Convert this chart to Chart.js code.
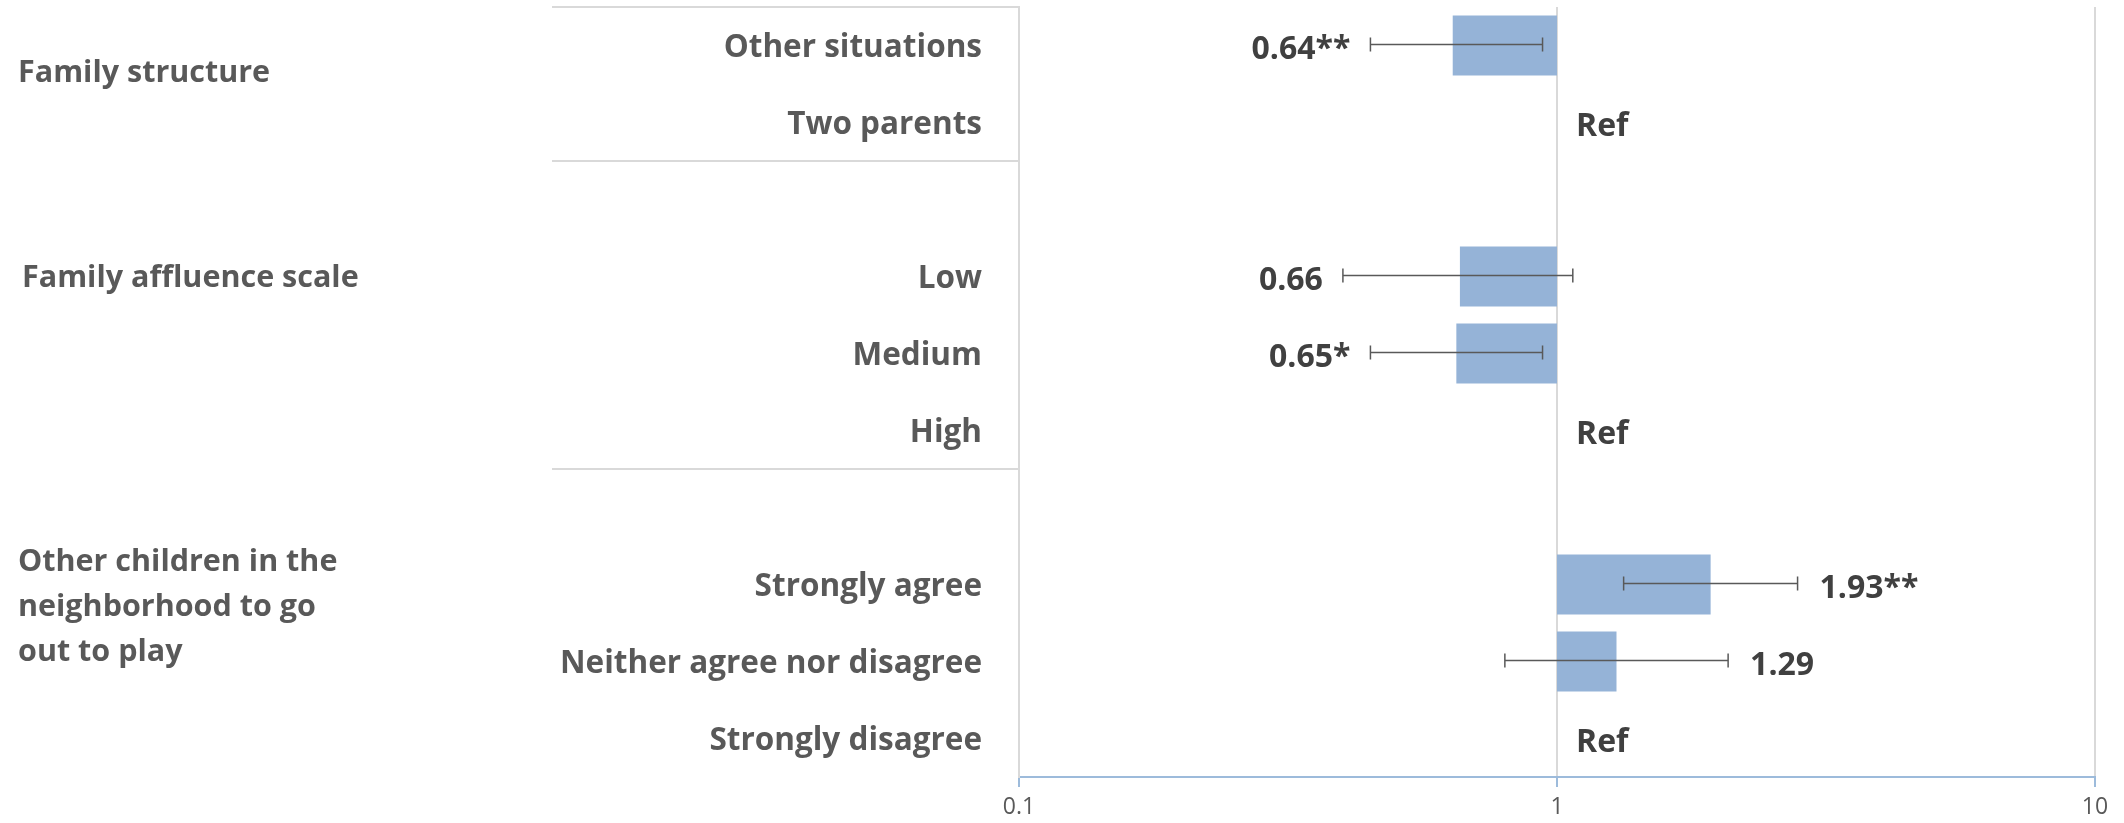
<!DOCTYPE html>
<html>
<head>
<meta charset="utf-8">
<script src="https://cdn.jsdelivr.net/npm/chart.js@4.4.0/dist/chart.umd.min.js"></script>
<style>
  body { margin: 0; background: #fff; }
  .wrap { width: 2124px; height: 823px; position: relative; }
</style>
</head>
<body>
<div class="wrap"><canvas id="or-chart"></canvas></div>
<script>
var categories = ['Other situations', 'Two parents', '', 'Low', 'Medium', 'High', '', 'Strongly agree', 'Neither agree nor disagree', 'Strongly disagree'];
var oddsRatio = [0.64, null, null, 0.66, 0.65, null, null, 1.93, 1.29, null];
var ciLower = [0.45, null, null, 0.40, 0.45, null, null, 1.33, 0.80, null];
var ciUpper = [0.94, null, null, 1.07, 0.94, null, null, 2.80, 2.08, null];
var stars = ['**', '', '', '', '*', '', '', '**', '', ''];
var xTicks = [0.1, 1, 10];
var groups = ['Family structure', 'Family affluence scale', 'Other children in the\nneighborhood to go\nout to play'];

Chart.defaults.font.family = "'Open Sans', sans-serif";

// bars start at OR = 1 and run to the estimate
var bars = oddsRatio.map(function(v) { return v == null ? null : [1, v]; });

// group dividers sit before every blank row, plus top and bottom edge
var dividers = [0, categories.length];
categories.forEach(function(c, i) { if (c === '') dividers.push(i); });

var errorBars = {
	id: 'errorBars',
	afterDatasetsDraw: function(chart) {
		var ctx = chart.ctx, xs = chart.scales.x, ys = chart.scales.y;
		var one = xs.getPixelForValue(1);
		ctx.save();
		ctx.strokeStyle = '#595959';
		ctx.lineWidth = 1.5;
		for (var i = 0; i < categories.length; i++) {
			if (oddsRatio[i] == null) continue;
			var yc = ys.getPixelForValue(i) - 1;
			var x1 = xs.getPixelForValue(ciLower[i]);
			var x2 = xs.getPixelForValue(ciUpper[i]);
			ctx.beginPath();
			ctx.moveTo(x1, yc); ctx.lineTo(x2, yc);
			ctx.moveTo(x1, yc - 7); ctx.lineTo(x1, yc + 7);
			ctx.moveTo(x2, yc - 7); ctx.lineTo(x2, yc + 7);
			ctx.stroke();
		}

		ctx.font = 'bold 32px "Open Sans"';
		ctx.fillStyle = '#404040';
		ctx.textBaseline = 'middle';
		for (var j = 0; j < categories.length; j++) {
			if (categories[j] === '') continue;
			var y = ys.getPixelForValue(j) + 4;
			if (oddsRatio[j] == null) {
				ctx.textAlign = 'left';
				ctx.fillText('Ref', one + 19, y);
			} else if (oddsRatio[j] < 1) {
				ctx.textAlign = 'right';
				ctx.fillText(oddsRatio[j].toFixed(2) + stars[j], xs.getPixelForValue(ciLower[j]) - 20, y);
			} else {
				ctx.textAlign = 'left';
				ctx.fillText(oddsRatio[j].toFixed(2) + stars[j], xs.getPixelForValue(ciUpper[j]) + 22, y);
			}
		}
		ctx.restore();
	},
	afterDraw: function(chart) {
		var ctx = chart.ctx, ys = chart.scales.y;
		var anchor = [0.36, 3.03, 7.29];
		var left = [18, 22, 18];
		ctx.save();
		ctx.font = 'bold 30.5px "Open Sans"';
		ctx.fillStyle = '#595959';
		ctx.textAlign = 'left';
		ctx.textBaseline = 'middle';
		groups.forEach(function(g, k) {
			var lines = g.split('\n');
			var yc = ys.getPixelForValue(anchor[k]);
			var top = yc - (lines.length - 1) * 45 / 2;
			lines.forEach(function(l, n) { ctx.fillText(l, left[k], top + n * 45); });
		});
		ctx.restore();
	}
};

var config_or = {
	type: 'bar',
	data: {
		labels: categories,
		datasets: [{
			data: bars,
			backgroundColor: '#95B3D7',
			borderWidth: 0,
			barPercentage: 0.78,
			categoryPercentage: 1
		}]
	},
	options: {
		indexAxis: 'y',
		responsive: true,
		maintainAspectRatio: false,
		animation: false,
		layout: { padding: { left: 552, right: 29, top: 7, bottom: 0 } },
		plugins: { legend: { display: false }, tooltip: { enabled: false } },
		scales: {
			x: {
				type: 'logarithmic',
				min: 0.1,
				max: 10,
				afterBuildTicks: function(scale) {
					scale.ticks = xTicks.map(function(v) { return { value: v }; });
				},
				afterFit: function(scale) { scale.height = 46; },
				grid: { color: '#D9D9D9', lineWidth: 2, tickColor: '#9DBBDB', tickLength: 10 },
				border: { color: '#9DBBDB', width: 2 },
				ticks: {
					color: '#595959',
					font: { size: 23 },
					padding: 7,
					maxRotation: 0,
					callback: function(v) { return String(v); }
				}
			},
			y: {
				afterFit: function(scale) { scale.width = 467; },
				grid: {
					drawOnChartArea: false,
					tickLength: 467,
					lineWidth: 2,
					color: function(c) { return dividers.indexOf(c.index) >= 0 ? '#D9D9D9' : 'rgba(0,0,0,0)'; }
				},
				border: { color: '#D9D9D9', width: 2 },
				ticks: {
					autoSkip: false,
					padding: -430,
					labelOffset: 3,
					color: '#595959',
					font: { size: 31.5, weight: 'bold' }
				}
			}
		}
	},
	plugins: [errorBars]
};

window.onload = function() {
	var ctx = document.getElementById('or-chart').getContext('2d');
	window.orChart = new Chart(ctx, config_or);
};
</script>
</body>
</html>
